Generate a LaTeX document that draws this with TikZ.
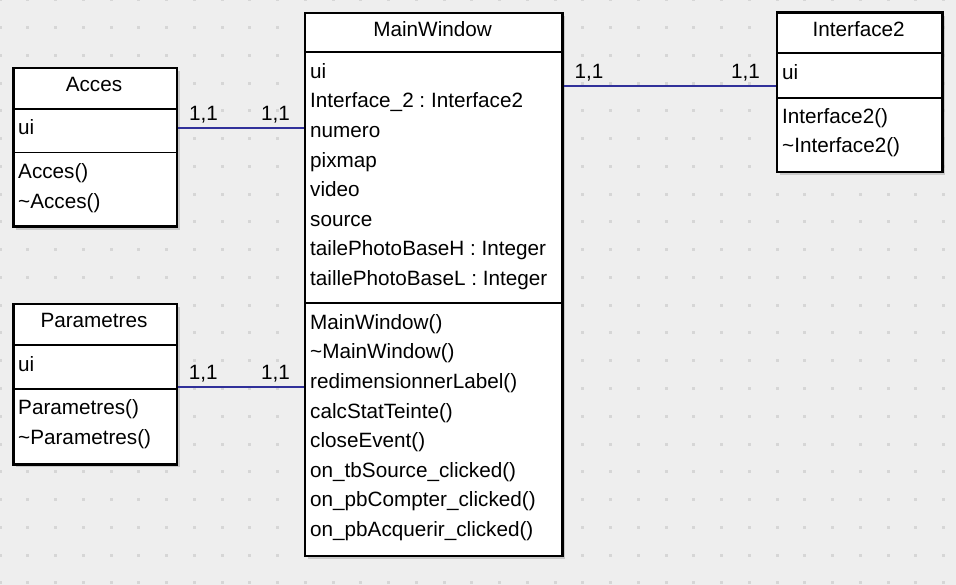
\documentclass[tikz,border=0pt]{standalone}
\usepackage{fontspec}
\setmainfont{Liberation Sans}
\usetikzlibrary{shadows}
\definecolor{canvasgray}{HTML}{EEEEEE}
\definecolor{dotgray}{HTML}{D6D6D6}
\definecolor{linkblue}{HTML}{30309A}
\frenchspacing

\tikzset{
  classbox/.style={draw=black, fill=white, line width=2.3pt, anchor=north west, inner sep=0pt,
    drop shadow={shadow xshift=3pt, shadow yshift=-3pt, fill=black!35, opacity=0.5}},
  sepline/.style={black, line width=1.8pt},
  classname/.style={anchor=base, inner sep=0pt},
  member/.style={anchor=base west, inner sep=0pt},
  assoc/.style={draw=linkblue, line width=2pt},
  mult/.style={inner sep=0pt},
}

\begin{document}
\begin{tikzpicture}[x=1pt, y=-1pt, every node/.style={font=\fontsize{20.7}{24}\selectfont}]
  \useasboundingbox (0,0) rectangle (956,585);
  \fill[canvasgray] (0,0) rectangle (956,585);
  % dotted grid
  \foreach \i in {0,...,34}
    \foreach \j in {0,...,21}
      \fill[dotgray] ({\i*27.75-1.5},{\j*27.75-1.5}) rectangle ++(3,3);

  % Acces
  \node[classbox, minimum width=163.5pt, minimum height=158.3pt] (acces) at (12.2,67.2) {};
  \draw[sepline] ([yshift=-41.5pt]acces.north west) -- ([yshift=-41.5pt]acces.north east);
  \draw[sepline, line width=1.2pt] ([yshift=-85.5pt]acces.north west) -- ([yshift=-85.5pt]acces.north east);
  \node[classname] (acces-title) at (94,91.7) {Acces};
  \node[member] (acces-ui) at (18,135) {ui};
  \node[member] (acces-ctor) at (18,178.5) {Acces()};
  \node[member] (acces-dtor) at (18,208.1) {\textasciitilde Acces()};

  % Parametres
  \node[classbox, minimum width=163.3pt, minimum height=160pt] (param) at (12.2,303.2) {};
  \draw[sepline] ([yshift=-41.8pt]param.north west) -- ([yshift=-41.8pt]param.north east);
  \draw[sepline, line width=1.4pt] ([yshift=-85.8pt]param.north west) -- ([yshift=-85.8pt]param.north east);
  \node[classname] (param-title) at (94,327.5) {Parametres};
  \node[member] (param-ui) at (18,371.2) {ui};
  \node[member] (param-ctor) at (18,414.5) {Parametres()};
  \node[member] (param-dtor) at (18,444) {\textasciitilde Parametres()};

  % MainWindow
  \node[classbox, minimum width=257.3pt, minimum height=542.3pt] (main) at (304,12.2) {};
  \draw[sepline] ([yshift=-39.8pt]main.north west) -- ([yshift=-39.8pt]main.north east);
  \draw[sepline] ([yshift=-290.8pt]main.north west) -- ([yshift=-290.8pt]main.north east);
  \node[classname] (main-title) at (432.6,36.3) {MainWindow};
  \foreach \m [count=\k from 0] in {ui, {Interface\_2 : Interface2}, numero, pixmap, video, source,
      {tailePhotoBaseH : Integer}, {taillePhotoBaseL : Integer}}
    \node[member] (main-a\k) at (310,{78.4+29.6*\k}) {\m};
  \foreach \m [count=\k from 0] in {MainWindow(), \textasciitilde MainWindow(), redimensionnerLabel(),
      calcStatTeinte(), closeEvent(), on\_tbSource\_clicked(), on\_pbCompter\_clicked(),
      on\_pbAcquerir\_clicked()}
    \node[member] (main-m\k) at (310,{329.2+29.6*\k}) {\m};

  % Interface2
  \node[classbox, minimum width=165.3pt, minimum height=159.5pt] (iface) at (776,11.5) {};
  \draw[sepline] ([yshift=-41.8pt]iface.north west) -- ([yshift=-41.8pt]iface.north east);
  \draw[sepline] ([yshift=-86.2pt]iface.north west) -- ([yshift=-86.2pt]iface.north east);
  \node[classname] (iface-title) at (858.6,36.4) {Interface2};
  \node[member] (iface-ui) at (782,79.5) {ui};
  \node[member] (iface-ctor) at (782,123.4) {Interface2()};
  \node[member] (iface-dtor) at (782,153) {\textasciitilde Interface2()};

  % associations
  \draw[assoc] ([yshift=19.6pt]acces.east) -- ([yshift=19.6pt]acces.east -| main.west)
    node[mult, at start, anchor=base west, xshift=10pt, yshift=7pt] (acces-m1) {1,1}
    node[mult, at end, anchor=base east, xshift=-13pt, yshift=7pt] (acces-m2) {1,1};
  \draw[assoc] ([yshift=-2.8pt]param.east) -- ([yshift=-2.8pt]param.east -| main.west)
    node[mult, at start, anchor=base west, xshift=10pt, yshift=8pt] (param-m1) {1,1}
    node[mult, at end, anchor=base east, xshift=-13pt, yshift=8pt] (param-m2) {1,1};
  \draw[assoc] ([yshift=6.3pt]iface.west -| main.east) -- ([yshift=6.3pt]iface.west)
    node[mult, at start, anchor=base west, xshift=10pt, yshift=8pt] (iface-m1) {1,1}
    node[mult, at end, anchor=base east, xshift=-15pt, yshift=8pt] (iface-m2) {1,1};
\end{tikzpicture}
\end{document}
